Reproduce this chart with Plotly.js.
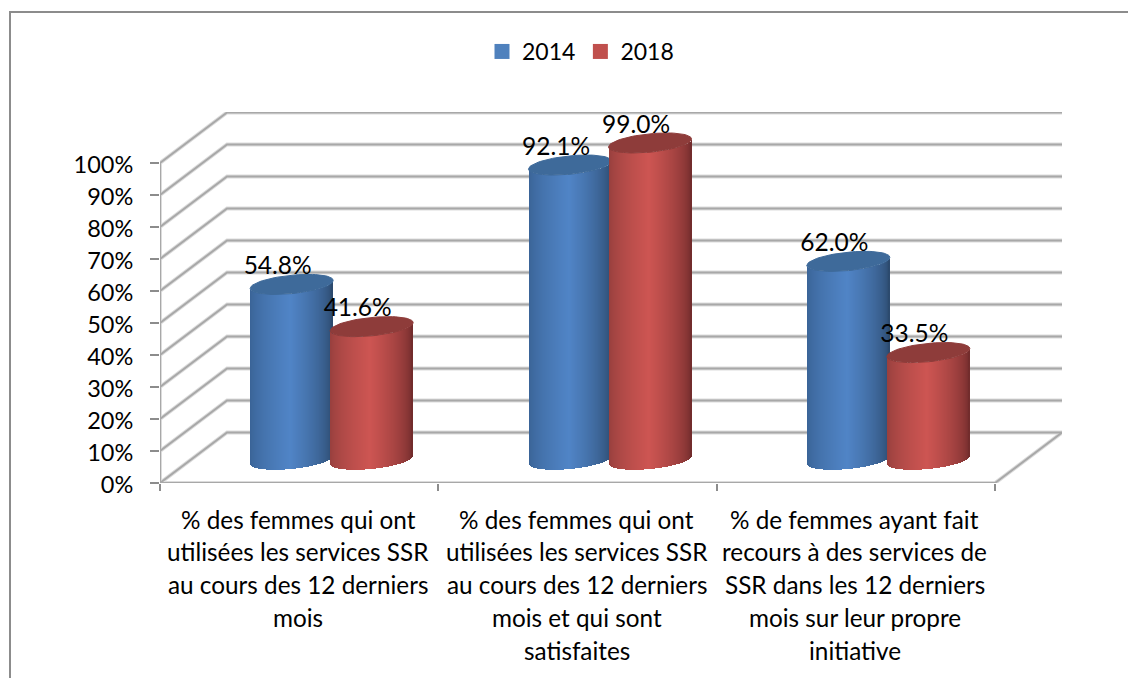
<!DOCTYPE html>
<html>
<head>
<meta charset="utf-8">
<script src="https://cdn.plot.ly/plotly-3.0.1.min.js"></script>
<style>html,body{margin:0;padding:0;background:#fff}#chart{width:1128px;height:678px}</style>
</head>
<body>
<div id="chart"></div>
<script>
const categoryLines = [
  ["% des femmes qui ont", "utilisées les services SSR", "au cours des 12 derniers", "mois"],
  ["% des femmes qui ont", "utilisées les services SSR", "au cours des 12 derniers", "mois et qui sont", "satisfaites"],
  ["% de femmes ayant fait", "recours à des services de", "SSR dans les 12 derniers", "mois sur leur propre", "initiative"]
];
const series2014 = [54.8, 92.1, 62.0];
const series2018 = [41.6, 99.0, 33.5];
const yTicks = [0, 10, 20, 30, 40, 50, 60, 70, 80, 90, 100];
const xTicks = [0, 1, 2, 3];

const FONT = 'Lato, "Open Sans", sans-serif';
const L = 160, R = 1062, T = 112, B = 483;
const pxPerCat = (995 - 160) / 3, pxPerPct = 3.2;
const depthX = 67 / pxPerCat, depthY = 50.5 / pxPerPct;
const xMax = (R - L) / pxPerCat, yMax = (B - T) / pxPerPct;
const GRID = '#A8A8A8', SHADOW = '#DCDCDC', TICK = '#8C8C8C';

const traces = [];
function line(xs, ys, color, width) {
  traces.push({type:'scatter', mode:'lines', x:xs, y:ys, line:{color, width}, hoverinfo:'skip',
    showlegend:false, cliponaxis:false, xaxis:'x', yaxis:'y'});
}
for (const shadow of [true, false]) {
  const c = shadow ? SHADOW : GRID, w = shadow ? 4 : 2;
  for (const v of yTicks) {
    line([0, depthX, xMax], [v, v + depthY, v + depthY], c, w);
  }
  line([0, 3, 3 + depthX], [0, 0, depthY], c, w);
  line([0, 0], [0, 100], c, w);
}

function mix(a, b, t) { return a.map((v, i) => Math.round(v + (b[i] - v) * t)); }
function rgb(c) { return `rgb(${c[0]},${c[1]},${c[2]})`; }

const rx = 41.5 / pxPerCat, ry = 9.2 / pxPerPct, tilt = 4 / pxPerPct;
const floorCentre = depthY * 0.46;
const centre = (i, side) => i + 0.5 + depthX / 2 + (side * 40 - 1) / pxPerCat;

function cylinders(values, side, pal, xa, ya) {
  values.forEach((val, i) => {
    const cx = centre(i, side);
    const n = 83, xs = [], bases = [], heights = [], cols = [], w = 2 * rx / n;
    for (let k = 0; k < n; k++) {
      const u = (k + 0.5) / n * 2 - 1;
      const s = Math.sqrt(1 - u * u);
      xs.push(cx + u * rx);
      bases.push(floorCentre - ry * s + tilt * u);
      heights.push(val);
      const lit = Math.pow(Math.max(0, 1 - Math.abs(u + 0.04)), 0.6);
      cols.push(rgb(mix(u > 0 ? pal.edgeR : pal.edgeL, pal.mid, lit)));
    }
    traces.push({type:'bar', x:xs, y:heights, base:bases, width:w,
      marker:{color:cols, line:{width:0}}, hoverinfo:'skip', showlegend:false, xaxis:xa, yaxis:ya});
    const ex = [], ey = [];
    for (let a = 0; a <= 72; a++) {
      const t = a / 72 * 2 * Math.PI, u = Math.cos(t);
      ex.push(cx + rx * u);
      ey.push(floorCentre + val + ry * Math.sin(t) + tilt * u);
    }
    traces.push({type:'scatter', mode:'lines', x:ex, y:ey, fill:'toself', fillcolor:pal.cap,
      line:{color:pal.cap, width:1}, hoverinfo:'skip', showlegend:false, cliponaxis:false, xaxis:xa, yaxis:ya});
  });
}
cylinders(series2014, -1, {mid:[80,132,198], edgeL:[54,94,142], edgeR:[44,74,110], cap:'#3E6A9A'}, 'x2', 'y2');
cylinders(series2018, 1, {mid:[205,85,82], edgeL:[142,60,58], edgeR:[114,44,44], cap:'#8E3C3A'}, 'x3', 'y3');

const labelX = [], labelY = [], labelT = [];
[[series2014, -1], [series2018, 1]].forEach(([vals, side]) => vals.forEach((v, i) => {
  labelX.push(centre(i, side) - 14 / pxPerCat);
  labelY.push(floorCentre + v + 16.5 / pxPerPct);
  labelT.push(v.toFixed(1) + '%');
}));
traces.push({type:'scatter', mode:'text', x:labelX, y:labelY, text:labelT, textposition:'middle center',
  textfont:{family:FONT, size:24.5, color:'#000'}, hoverinfo:'skip', showlegend:false, cliponaxis:false, xaxis:'x3', yaxis:'y3'});

traces.push({type:'scatter', mode:'markers', name:'2014', x:[null], y:[null], marker:{symbol:'square', size:15, color:'#4F81BD'}, xaxis:'x', yaxis:'y'});
traces.push({type:'scatter', mode:'markers', name:'2018', x:[null], y:[null], marker:{symbol:'square', size:15, color:'#C0504D'}, xaxis:'x', yaxis:'y'});

const annotations = [];
categoryLines.forEach((lines, i) => lines.forEach((txt, j) => {
  annotations.push({xref:'x', yref:'y', x:i + 0.5, y:0, text:txt, showarrow:false, xanchor:'center', yanchor:'middle',
    xshift:-1, yshift:-(36 + j * 32.8), font:{family:FONT, size:24.3, color:'#000'}});
}));

const hidden = {range:[0, xMax], visible:false, fixedrange:true};
const hiddenY = {range:[0, yMax], visible:false, fixedrange:true};
const layout = {
  width:1128, height:678, paper_bgcolor:'#fff', plot_bgcolor:'rgba(0,0,0,0)',
  margin:{l:L, r:1128 - R, t:T, b:678 - B},
  barmode:'overlay', bargap:0,
  font:{family:FONT, color:'#000'},
  xaxis:{range:[0, xMax], tickvals:xTicks, ticktext:['', '', '', ''], ticks:'outside', ticklen:7, tickwidth:2, tickcolor:TICK,
    showgrid:false, zeroline:false, showline:false, fixedrange:true},
  yaxis:{range:[0, yMax], tickvals:yTicks, ticktext:yTicks.map(v => v + '%'), ticks:'outside', ticklen:9, tickwidth:2, tickcolor:TICK,
    ticklabelstandoff:12, ticklabelshift:2, tickfont:{family:FONT, size:23.5, color:'#000'},
    showgrid:false, zeroline:false, showline:false, fixedrange:true},
  xaxis2:Object.assign({overlaying:'x', anchor:'y2'}, hidden),
  yaxis2:Object.assign({overlaying:'y', anchor:'x2'}, hiddenY),
  xaxis3:Object.assign({overlaying:'x', anchor:'y3'}, hidden),
  yaxis3:Object.assign({overlaying:'y', anchor:'x3'}, hiddenY),
  showlegend:true,
  legend:{orientation:'h', x:(482 - L) / (R - L), xanchor:'left', y:1 + (T - 30) / (B - T), yanchor:'top',
    font:{family:FONT, size:23, color:'#000'}, bgcolor:'rgba(0,0,0,0)', itemclick:false, itemdoubleclick:false},
  annotations,
  shapes:[{type:'rect', xref:'paper', yref:'paper', x0:(10 - L) / (R - L), x1:(1200 - L) / (R - L),
    y0:(B - 760) / (B - T), y1:(B - 12) / (B - T), line:{color:'#8C8C8C', width:2}, fillcolor:'rgba(0,0,0,0)', layer:'below'}]
};
Plotly.newPlot('chart', traces, layout, {displayModeBar:false, staticPlot:true});
</script>
</body>
</html>
